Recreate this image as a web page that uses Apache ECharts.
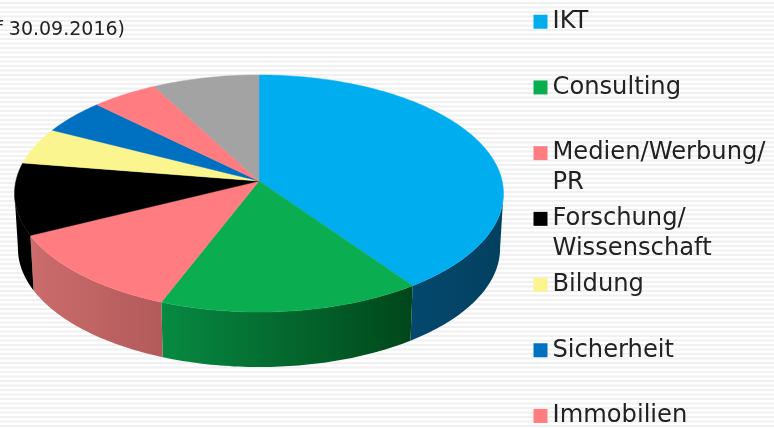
<!DOCTYPE html>
<html>
<head>
<meta charset="utf-8">
<style>
html, body { margin: 0; padding: 0; }
body { background: repeating-linear-gradient(180deg, #ffffff 0, #ffffff 1.5px, #f0f0f0 2.5px, #f0f0f0 3.5px, #ffffff 4.5px); }
#main { width: 774px; height: 428px; filter: blur(0.5px); }
</style>
<script src="https://cdn.jsdelivr.net/npm/echarts@6/dist/echarts.min.js"></script>
</head>
<body>
<div id="main"></div>
<script>
// shares in percent
var categories = ['IKT', 'Consulting', 'Medien/Werbung/\nPR', 'Forschung/\nWissenschaft', 'Bildung', 'Sicherheit', 'Immobilien', 'Sonstige'];
var shares = [40.2, 15.7, 11.8, 9.8, 5.0, 4.8, 4.9, 7.8];
var legendNames = categories.slice(0, 7);
var subtitle = 'f 30.09.2016)';

var topColors = ['#00aeef', '#0aae50', '#ff7c80', '#000000', '#fbf58f', '#0070c0', '#ff7c80', '#a3a3a3'];
var wallColors = [
    ['#04486e', '#03405f'],
    ['#078a42', '#00461a'],
    ['#cc6c6c', '#b25a5a'],
    ['#000000', '#000000'],
    ['#000000', '#000000'],
    ['#000000', '#000000'],
    ['#000000', '#000000'],
    ['#000000', '#000000']
];

// perspective of the disc
var apexX = 259, apexY = 181;
var spanX = 243.1, spanY = 117.2, tilt = -0.1055;
var depth = 55, bottomScale = 0.986;
var wallFrom = 96, wallTo = 264;

function topPoint(deg) {
    var a = deg * Math.PI / 180;
    var u = Math.sin(a), v = -Math.cos(a);
    var w = 1 + tilt * v;
    return [apexX + spanX * u / w, apexY + spanY * v / w];
}
function bottomPoint(deg) {
    var p = topPoint(deg);
    return [apexX + (p[0] - apexX) * bottomScale, p[1] + depth];
}
function arc(fn, from, to) {
    var pts = [];
    var n = Math.max(2, Math.ceil((to - from) / 1));
    for (var i = 0; i <= n; i++) {
        pts.push(fn(from + (to - from) * i / n));
    }
    return pts;
}

var total = shares.reduce(function (s, v) { return s + v; }, 0);
var running = 0;
var series = [];
categories.forEach(function (name, i) {
    var start = running;
    running += shares[i];
    series.push({
        name: name,
        type: 'custom',
        coordinateSystem: 'none',
        silent: true,
        itemStyle: { color: topColors[i] },
        data: [[start, running]],
        renderItem: function (params, api) {
            var from = api.value(0) / total * 360;
            var to = api.value(1) / total * 360;
            var children = [];
            var wa = Math.max(from, wallFrom), wb = Math.min(to, wallTo);
            if (wb > wa) {
                var wall = arc(topPoint, wa, wb).concat(arc(bottomPoint, wa, wb).reverse());
                children.push({
                    type: 'polygon',
                    shape: { points: wall },
                    style: {
                        fill: new echarts.graphic.LinearGradient(0, 0, 1, 0, [
                            { offset: 0, color: wallColors[i][0] },
                            { offset: 1, color: wallColors[i][1] }
                        ])
                    }
                });
            }
            children.push({
                type: 'polygon',
                shape: { points: [[apexX, apexY]].concat(arc(topPoint, from, to)) },
                style: { fill: topColors[i], stroke: topColors[i], lineWidth: 0.5 }
            });
            return { type: 'group', children: children };
        }
    });
});

var myChart = echarts.init(document.getElementById('main'), null, { renderer: 'canvas' });
var option = {
    backgroundColor: 'transparent',
    animation: false,
    title: {
        text: subtitle,
        right: 649,
        top: 21,
        padding: 0,
        textStyle: { fontFamily: 'DejaVu Sans', fontSize: 19, fontWeight: 'normal', color: '#222222' }
    },
    legend: {
        data: legendNames,
        orient: 'vertical',
        icon: 'rect',
        left: 533.5,
        top: -22.5,
        height: 600,
        padding: 0,
        itemWidth: 14,
        itemHeight: 14,
        itemGap: -22.8,
        selectedMode: false,
        textStyle: {
            fontFamily: 'DejaVu Sans',
            fontSize: 24.2,
            lineHeight: 29.5,
            color: '#222222'
        },
        // every entry takes three lines so the marker sits on the first text line
        formatter: function (name) {
            var parts = name.split('\n');
            return ' \n' + parts[0] + '\n' + (parts[1] || ' ');
        }
    },
    series: series
};
myChart.setOption(option);
</script>
</body>
</html>
